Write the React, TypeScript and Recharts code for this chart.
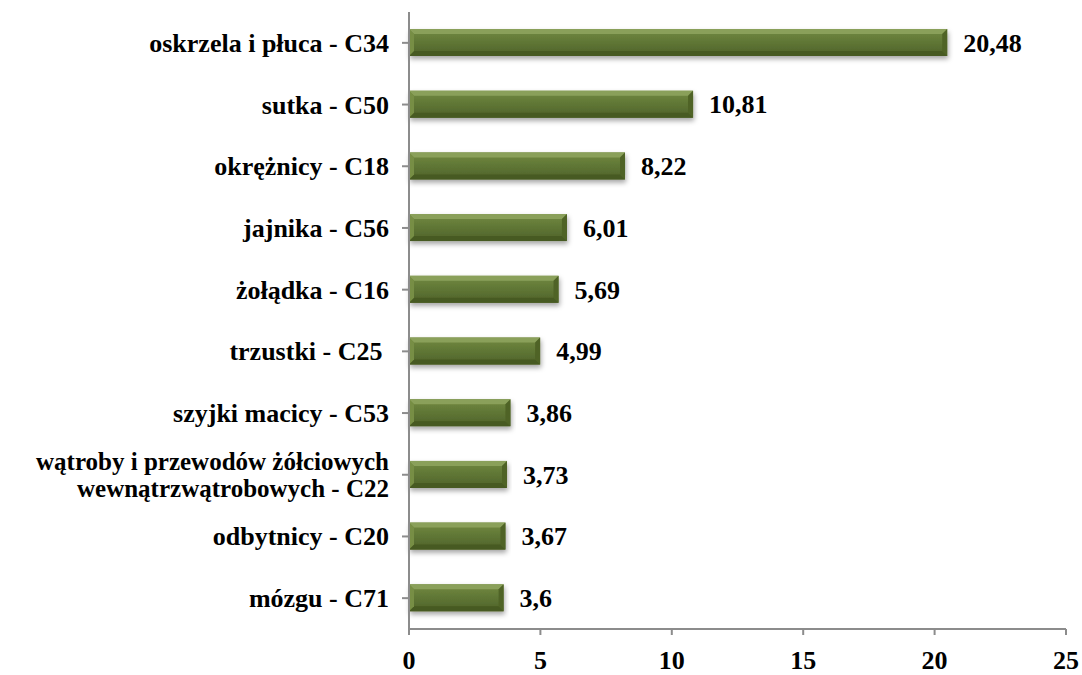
import React from "react";
import { BarChart, Bar, XAxis, YAxis, LabelList } from "recharts";

const kategorie = [
  "oskrzela i płuca - C34",
  "sutka - C50",
  "okrężnicy - C18",
  "jajnika - C56",
  "żołądka - C16",
  "trzustki - C25 ",
  "szyjki macicy - C53",
  "wątroby i przewodów żółciowych\nwewnątrzwątrobowych - C22",
  "odbytnicy - C20",
  "mózgu - C71",
];
const wartosci = [20.48, 10.81, 8.22, 6.01, 5.69, 4.99, 3.86, 3.73, 3.67, 3.6];
const osX = [0, 5, 10, 15, 20, 25];

const data = kategorie.map((k, i) => ({ nazwa: k, wartosc: wartosci[i] }));

const FONT = "'Liberation Serif', 'Times New Roman', serif";
const AXIS = "#8c8c8c";

const fmt = (v: number) => String(v).replace(".", ",");

function BevelBar(props: any) {
  const { x, y, width, height } = props;
  if (!width || width <= 0) return null;
  const b = Math.min(5, width / 2);
  const r = x + width;
  const btm = y + height;
  return (
    <g filter="url(#cien)">
      <rect x={x} y={y} width={width} height={height} fill="url(#slupek)" />
      <polygon points={`${x},${y} ${r},${y} ${r - b},${y + b} ${x + b},${y + b}`} fill="#8aa05a" />
      <polygon points={`${x},${btm} ${r},${btm} ${r - b},${btm - b} ${x + b},${btm - b}`} fill="#475a21" />
      <polygon points={`${x},${y} ${x + b},${y + b} ${x + b},${btm - b} ${x},${btm}`} fill="#778e44" />
      <polygon points={`${r},${y} ${r - b},${y + b} ${r - b},${btm - b} ${r},${btm}`} fill="#4f6327" />
    </g>
  );
}

function YTick(props: any) {
  const { x, y, payload } = props;
  const lines = String(payload.value).split("\n");
  const lh = 27;
  const start = -((lines.length - 1) * lh) / 2;
  return (
    <text
      x={x - 11}
      y={y}
      textAnchor="end"
      fontFamily={FONT}
      fontWeight="bold"
      fontSize={lines.length > 1 ? 25 : 26}
      fill="#000"
      style={{ whiteSpace: "pre" }}
    >
      {lines.map((l, i) => (
        <tspan key={i} x={x - 11} y={y + start + i * lh + 9}>
          {l}
        </tspan>
      ))}
    </text>
  );
}

function XTick(props: any) {
  const { x, y, payload } = props;
  return (
    <text
      x={x}
      y={y + 32}
      textAnchor="middle"
      fontFamily={FONT}
      fontWeight="bold"
      fontSize={26}
      fill="#000"
    >
      {payload.value}
    </text>
  );
}

export default function App() {
  return (
    <div style={{ position: "absolute", left: 0, top: 0, background: "#fff" }}>
      <BarChart
        width={1082}
        height={675}
        data={data}
        layout="vertical"
        barSize={27}
        margin={{ top: 12, right: 16, left: 0, bottom: 0 }}
      >
        <defs>
          <linearGradient id="slupek" x1="0" y1="0" x2="0" y2="1">
            <stop offset="0%" stopColor="#738a41" />
            <stop offset="50%" stopColor="#5f7635" />
            <stop offset="100%" stopColor="#4f6229" />
          </linearGradient>
          <filter id="cien" x="-5%" y="-30%" width="110%" height="180%">
            <feDropShadow dx="1" dy="3" stdDeviation="2.5" floodColor="#000" floodOpacity="0.35" />
          </filter>
        </defs>
        <XAxis
          type="number"
          domain={[0, 25]}
          ticks={osX}
          interval={0}
          height={46}
          stroke={AXIS}
          strokeWidth={2}
          tickSize={6}
          tick={<XTick />}
        />
        <YAxis
          type="category"
          dataKey="nazwa"
          width={409}
          interval={0}
          stroke={AXIS}
          strokeWidth={2}
          tickSize={7}
          tick={<YTick />}
        />
        <Bar dataKey="wartosc" shape={<BevelBar />} isAnimationActive={false}>
          <LabelList
            dataKey="wartosc"
            position="right"
            offset={16}
            formatter={(v: any) => fmt(v)}
            style={{ fontFamily: FONT, fontWeight: "bold", fontSize: 26, fill: "#000" }}
          />
        </Bar>
      </BarChart>
    </div>
  );
}
